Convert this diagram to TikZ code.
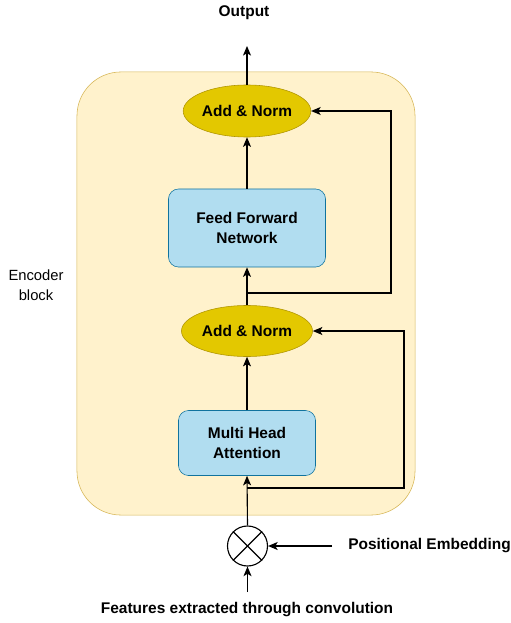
\documentclass[tikz,border=0pt]{standalone}
\usepackage{fontspec}
\setmainfont{Liberation Sans}
\usetikzlibrary{arrows.meta,shapes.geometric}

\definecolor{blockfill}{HTML}{FFF2CC}
\definecolor{blockline}{HTML}{D6B656}
\definecolor{normfill}{HTML}{E3C800}
\definecolor{normline}{HTML}{B09500}
\definecolor{layerfill}{HTML}{B1DDF0}
\definecolor{layerline}{HTML}{10739E}

\tikzset{
    norm/.style={ellipse,draw=normline,fill=normfill,font=\bfseries\fontsize{11pt}{13pt}\selectfont},
    layer/.style={draw=layerline,fill=layerfill,rounded corners=0.25cm,align=center,
        font=\bfseries\fontsize{11pt}{14pt}\selectfont},
    lbl/.style={font=\bfseries\fontsize{11pt}{13pt}\selectfont},
    conn/.style={-{Stealth[length=0.24cm,width=0.2cm,inset=0.06cm]},line width=0.8pt}
}

\begin{document}
\begin{tikzpicture}[x=0.025cm,y=-0.025cm]
        \useasboundingbox (0,0) rectangle (511,623);

        % encoder block
        \node[draw=blockline,fill=blockfill,rounded corners=1.1cm,minimum width=8.45cm,minimum height=11.075cm] (block) at (246,293.5) {};
        \node[align=center,font=\fontsize{10.5pt}{14pt}\selectfont] (enc) at (36,285) {Encoder\\block};

        \node[norm,minimum width=2.675cm,minimum height=1.3cm,inner sep=0pt] (an2) at (247,111) {Add \& Norm};
        \node[layer,minimum width=3.925cm,minimum height=1.95cm] (ffn) at (247,228) {Feed Forward\\Network};
        \node[norm,minimum width=3.275cm,minimum height=1.275cm,inner sep=0pt] (an1) at (247,331) {Add \& Norm};
        \node[layer,minimum width=3.425cm,minimum height=1.625cm] (mha) at (247,443) {Multi Head\\Attention};

        \node[circle,draw,line width=0.8pt,minimum size=1cm,inner sep=0pt] (mix) at (247.5,546) {};
        \draw[line width=0.8pt] (mix.north east) -- (mix.south west);
        \draw[line width=0.8pt] (mix.north west) -- (mix.south east);

        \node[lbl] (out) at (244,13) {Output};
        \node[lbl,anchor=west,inner sep=0pt] (pe) at (348,546) {Positional Embedding};
        \node[lbl] (feat) at (247,610) {Features extracted through convolution};

        \coordinate (outtip) at (247,46);
        \coordinate (petail) at (332,546);
        \coordinate (feattail) at (247.5,592);
        \coordinate (res2) at (247,293);
        \coordinate (res2r) at (391,293);
        \coordinate (res1) at (247,488);
        \coordinate (res1r) at (404,488);

        \draw[conn] (an2.north) -- (outtip);
        \draw[conn] (ffn.north) -- (an2.south);
        \draw[conn] (an1.north) -- (ffn.south);
        \draw[conn] (mha.north) -- (an1.south);
        \draw[conn] (mix.north) -- (mha.south);
        \draw[conn] (petail) -- (mix.east);
        \draw[conn] (feattail) -- (mix.south);

        % residual paths
        \draw[conn] (res2) -- (res2r) |- (an2.east);
        \draw[conn] (res1) -- (res1r) |- (an1.east);
    \end{tikzpicture}
\end{document}
